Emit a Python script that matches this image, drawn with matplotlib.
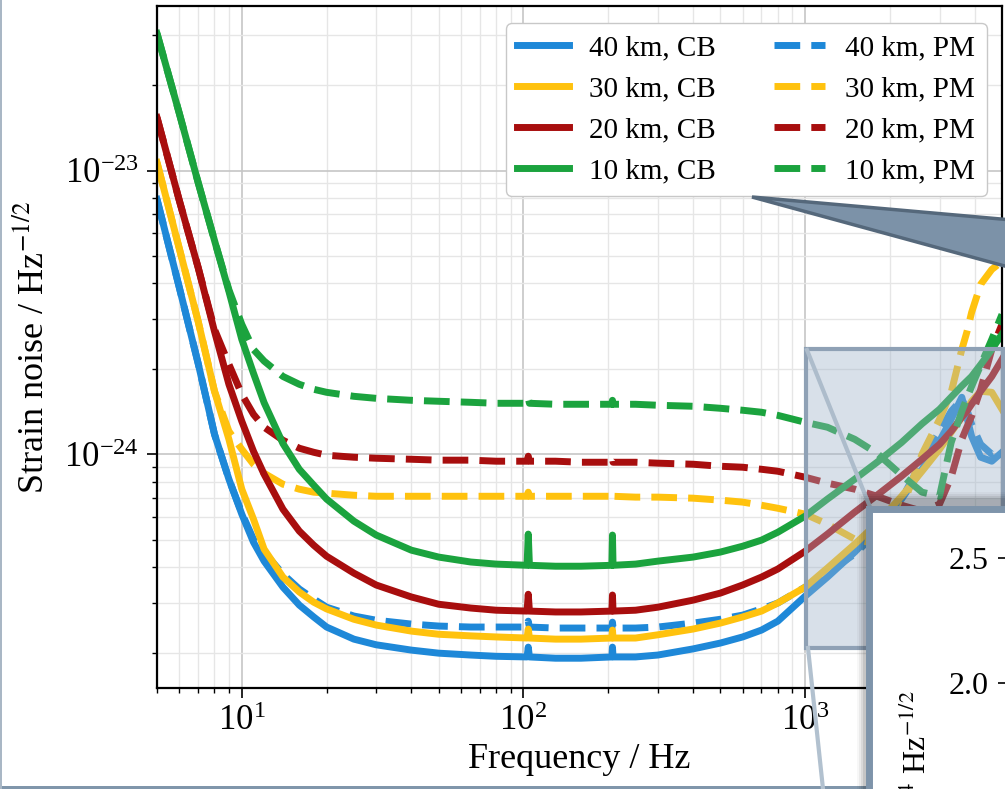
import matplotlib
matplotlib.use('Agg')
import matplotlib.pyplot as plt
from matplotlib.patches import Rectangle, Polygon
from matplotlib.lines import Line2D

plt.rcParams.update({
    'font.family': 'serif',
    'font.serif': ['Liberation Serif', 'DejaVu Serif'],
    'mathtext.fontset': 'stix',
})

# Frequency grid (Hz) shared by all curves
freq = [5, 6, 7, 8, 9, 10, 11, 12, 14, 16, 18, 20, 25, 30, 40, 50, 65, 80,
        103, 104, 105, 130, 160, 206, 207, 208, 250, 300, 400, 500, 600, 700,
        800, 1000, 1200, 1500, 1800, 2200, 2600, 3000, 3300, 3600, 3750, 3900,
        4200, 4600, 5000]

# Strain noise in units of 1e-24 / sqrt(Hz)
cb_40 = [7.91, 3.87, 2.09, 1.176, 0.817, 0.615, 0.490, 0.420, 0.340, 0.294, 0.267, 0.246,
         0.223, 0.213, 0.204, 0.199, 0.196, 0.194, 0.193, 0.209, 0.193, 0.191, 0.191,
         0.193, 0.209, 0.193, 0.193, 0.196, 0.206, 0.216, 0.227, 0.240, 0.258, 0.316,
         0.369, 0.452, 0.545, 0.695, 0.885, 1.111, 1.328, 1.588, 1.35, 1.157, 0.976,
         0.945, 1.016]
pm_40 = [7.91, 3.87, 2.09, 1.176, 0.817, 0.620, 0.502, 0.452, 0.378, 0.335, 0.309, 0.289,
         0.269, 0.260, 0.252, 0.248, 0.246, 0.246, 0.246, 0.258, 0.246, 0.244, 0.244,
         0.244, 0.256, 0.244, 0.244, 0.246, 0.254, 0.262, 0.271, 0.285, 0.299, 0.340,
         0.381, 0.445, 0.531, 0.695, 0.945, 1.205, 1.417, 1.563, 1.44, 1.275, 1.084,
         1.0, 1.041]
cb_30 = [10.67, 5.31, 2.94, 1.667, 1.129, 0.753, 0.591, 0.463, 0.369, 0.327, 0.301, 0.285,
         0.262, 0.250, 0.238, 0.232, 0.229, 0.227, 0.225, 0.242, 0.225, 0.223, 0.223,
         0.225, 0.240, 0.225, 0.225, 0.231, 0.242, 0.254, 0.267, 0.280, 0.299, 0.340,
         0.397, 0.482, 0.571, 0.711, 0.871, 1.041, 1.195, 1.35, 1.44, 1.537, 1.667,
         1.653, 1.44]
pm_30 = [10.67, 5.31, 2.94, 1.667, 1.205, 1.041, 0.922, 0.857, 0.784, 0.753, 0.735, 0.729,
         0.717, 0.711, 0.711, 0.711, 0.711, 0.711, 0.711, 0.735, 0.711, 0.711, 0.711,
         0.711, 0.729, 0.711, 0.706, 0.706, 0.700, 0.689, 0.678, 0.661, 0.645, 0.615,
         0.567, 0.502, 0.482, 0.640, 1.0, 1.328, 1.653, 2.34, 2.69, 3.16, 3.97,
         4.48, 4.78]
cb_20 = [15.37, 7.84, 4.55, 2.71, 1.764, 1.307, 1.025, 0.850, 0.640, 0.536, 0.478, 0.437,
         0.381, 0.346, 0.314, 0.296, 0.287, 0.282, 0.280, 0.321, 0.280, 0.278, 0.278,
         0.280, 0.319, 0.280, 0.282, 0.289, 0.306, 0.324, 0.346, 0.369, 0.394, 0.455,
         0.523, 0.625, 0.717, 0.837, 0.960, 1.084, 1.205, 1.35, 1.417, 1.50, 1.667,
         1.88, 2.16]
pm_20 = [15.37, 7.84, 4.55, 2.755, 2.075, 1.627, 1.383, 1.245, 1.120, 1.050, 1.016, 0.992,
         0.976, 0.968, 0.960, 0.953, 0.953, 0.945, 0.945, 0.984, 0.945, 0.945, 0.937,
         0.937, 0.968, 0.937, 0.937, 0.930, 0.922, 0.907, 0.900, 0.885, 0.871, 0.830,
         0.791, 0.753, 0.711, 0.661, 0.630, 0.667, 0.830, 1.129, 1.245, 1.361, 1.694,
         2.34, 2.87]
cb_10 = [30.4, 15.9, 9.07, 5.67, 3.75, 2.54, 1.93, 1.52, 1.09, 0.885, 0.778, 0.695,
         0.581, 0.519, 0.459, 0.434, 0.417, 0.410, 0.406, 0.523, 0.406, 0.403, 0.403,
         0.406, 0.519, 0.406, 0.410, 0.420, 0.434, 0.452, 0.474, 0.498, 0.531, 0.605,
         0.695, 0.817, 0.937, 1.10, 1.28, 1.44, 1.59, 1.74, 1.81, 1.88, 2.07,
         2.34, 2.65]
pm_10 = [30.4, 15.9, 9.07, 5.67, 3.80, 2.87, 2.34, 2.13, 1.88, 1.764, 1.694, 1.653,
         1.600, 1.574, 1.549, 1.537, 1.524, 1.512, 1.512, 1.574, 1.512, 1.50, 1.50,
         1.50, 1.549, 1.50, 1.50, 1.488, 1.476, 1.452, 1.429, 1.406, 1.371, 1.296,
         1.245, 1.129, 1.008, 0.844, 0.735, 0.711, 1.10, 1.417, 1.574, 1.735, 2.06,
         2.54, 3.11]

lengths = ['40', '30', '20', '10']
colors = ['#1E88D8', '#FFC20E', '#A80E0E', '#1BA33E']
cb_curves = [cb_40, cb_30, cb_20, cb_10]
pm_curves = [pm_40, pm_30, pm_20, pm_10]
unit = 1e-24

W, H = 1005, 789


def px(x, y):
    return (x / W, 1 - y / H)


fig = plt.figure(figsize=(W / 100, H / 100), dpi=100)
ax = fig.add_axes([157 / W, 1 - 688 / H, (1002 - 157) / W, (688 - 6) / H])

cb_handles, pm_handles = [], []
for L, c, cb, pm in zip(lengths, colors, cb_curves, pm_curves):
    h1, = ax.plot(freq, [v * unit for v in cb], color=c, lw=5,
                  solid_joinstyle='round', label=f'{L} km, CB')
    h2, = ax.plot(freq, [v * unit for v in pm], color=c, lw=5, ls='--',
                  dash_joinstyle='round', label=f'{L} km, PM')
    cb_handles.append(h1)
    pm_handles.append(h2)

ax.set_xscale('log')
ax.set_yscale('log')
ax.set_xlim(5, 5000)
ax.set_ylim(1.5e-25, 3.8e-23)
ax.set_axisbelow(True)
ax.grid(which='major', color='#c6c6c6', lw=1.2)
ax.grid(which='minor', color='#e6e6e6', lw=1.0)
for s in ax.spines.values():
    s.set_linewidth(1.6)
ax.tick_params(which='major', direction='out', length=7, width=1.2, labelsize=25)
ax.tick_params(axis='x', which='major', pad=5)
ax.tick_params(axis='y', which='major', pad=6)
ax.tick_params(which='minor', direction='out', length=3.6, width=1.0)

ax.set_xlabel('Frequency / Hz', fontsize=26)
ax.set_ylabel(r'Strain noise / Hz$^{-1/2}$', fontsize=26)
ax.xaxis.set_label_coords(0.5, -0.08)
ax.yaxis.set_label_coords(-0.125, 0.5)

leg = ax.legend(cb_handles + pm_handles, [h.get_label() for h in cb_handles + pm_handles],
                ncol=2, loc='upper right', bbox_to_anchor=((987 - 157) / 845, (688 - 23) / 682),
                borderaxespad=0, fontsize=21, handlelength=1.75, handletextpad=0.7,
                columnspacing=2.0, labelspacing=0.5, borderpad=0.4, framealpha=1,
                edgecolor='#c8c8c8')

# overlay: zoom rectangle, connectors, callout, inset panel
tf = fig.transFigure
fig.add_artist(Rectangle(px(806, 648), 197 / W, 299 / H, transform=tf,
                         facecolor='#9fb3c8', alpha=0.4, edgecolor='none', zorder=5))
fig.add_artist(Rectangle(px(806, 648), 197 / W, 299 / H, transform=tf,
                         facecolor='none', edgecolor='#8fa1b5', lw=3, zorder=5))
fig.add_artist(Line2D([807 / W, 872 / W], [1 - 350 / H, 1 - 512 / H], transform=tf,
                      color='#adbccb', lw=3, zorder=6))
fig.add_artist(Line2D([808 / W, 823 / W], [1 - 648 / H, 1 - 789 / H], transform=tf,
                      color='#b2c1cf', lw=3, zorder=6))
fig.add_artist(Polygon([px(752, 197), px(1012, 220), px(1012, 268)], closed=True,
                       transform=tf, facecolor='#7c92a8', edgecolor='#55687b',
                       lw=2.5, zorder=7))

# frame of the slide
fig.add_artist(Rectangle((0, 0), 1, 3.5 / H, transform=tf, facecolor='#8096ab',
                         edgecolor='none', zorder=4))
fig.add_artist(Rectangle((0, 0), 1.5 / W, 1, transform=tf, facecolor='#a9b7c5',
                         edgecolor='none', zorder=4))

# inset panel with soft shadow
for d, a in [(8, 0.03), (6, 0.05), (4, 0.07), (2, 0.09)]:
    fig.add_artist(Rectangle(px(865 - d, 800), (150 + d) / W, (300 + d) / H, transform=tf,
                             facecolor='black', alpha=a, edgecolor='none', zorder=8))
fig.add_artist(Rectangle(px(868.5, 800), 150 / W, (800 - 508.5) / H, transform=tf,
                         facecolor='white', edgecolor='#7e94aa', lw=5, zorder=9))

ax_in = fig.add_axes([1006 / W, 0, 300 / W, (789 - 513) / H])
ax_in.set_zorder(10)
ax_in.patch.set_visible(False)
ax_in.set_ylim(1.576, 2.68)
ax_in.set_yticks([2.0, 2.5])
ax_in.set_yticklabels(['2.0', '2.5'])
ax_in.set_xticks([])
for side in ['top', 'right', 'bottom']:
    ax_in.spines[side].set_visible(False)
ax_in.tick_params(axis='y', direction='out', length=6, width=1.2, pad=6.5, labelsize=23)
fig.text(917 / W, 1 - 690 / H, r'Strain noise / $10^{-24}$ Hz$^{-1/2}$', rotation=90,
         ha='center', va='top', fontsize=23, zorder=11)

fig.savefig('out.png', dpi=100)
